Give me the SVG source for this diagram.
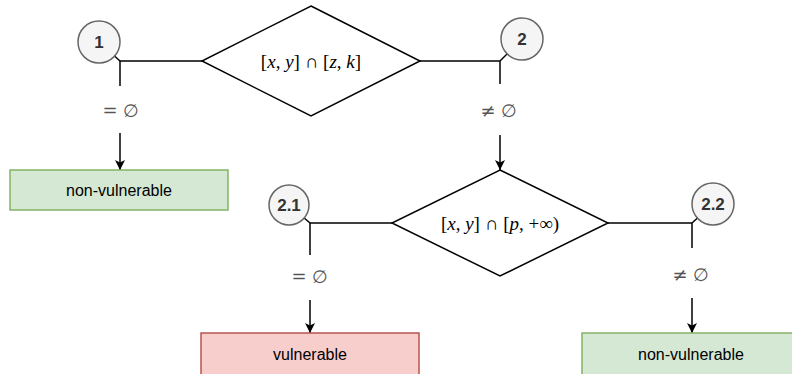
<svg xmlns="http://www.w3.org/2000/svg" width="792" height="374" viewBox="0 0 792 374">
  <defs>
    <marker id="arrow" viewBox="0 0 10 10" refX="10" refY="5" markerWidth="10" markerHeight="10" markerUnits="userSpaceOnUse" orient="auto">
      <path d="M0,0 L10,5 L0,10 L2.5,5 Z" fill="#000"/>
    </marker>
    <style>
      .edge { fill: none; stroke: #000; stroke-width: 1.5; }
      .diamond { fill: #fff; stroke: #000; stroke-width: 1.5; }
      .badge { fill: #f5f5f5; stroke: #666; stroke-width: 1.5; }
      .badge-text { font-family: "Liberation Sans", Arial, sans-serif; font-size: 17px; font-weight: bold; fill: #333; text-anchor: middle; dominant-baseline: central; }
      .good { fill: #d5e8d4; stroke: #82b366; stroke-width: 1.5; }
      .bad { fill: #f8cecc; stroke: #b85450; stroke-width: 1.5; }
      .box-text { font-family: "Liberation Sans", Arial, sans-serif; font-size: 16px; fill: #000; text-anchor: middle; dominant-baseline: central; }
      .math { font-family: "Liberation Serif", "DejaVu Serif", serif; font-size: 19px; fill: #000; text-anchor: middle; dominant-baseline: central; }
      .cond { font-family: "DejaVu Serif", "Liberation Serif", serif; font-size: 18px; fill: #555; text-anchor: middle; dominant-baseline: central; }
      .it { font-style: italic; }
    </style>
  </defs>

  <!-- connectors -->
  <g id="edges">
    <path class="edge" d="M202,61 H120 V86"/>
    <line class="edge" x1="120" y1="61" x2="99" y2="42"/>
    <path class="edge" d="M120,133 V170" marker-end="url(#arrow)"/>

    <path class="edge" d="M420,61 H500 V84"/>
    <line class="edge" x1="500" y1="61" x2="522" y2="39"/>
    <path class="edge" d="M500,135 V170" marker-end="url(#arrow)"/>

    <path class="edge" d="M392,223 H310 V255"/>
    <line class="edge" x1="310" y1="223" x2="289" y2="205"/>
    <path class="edge" d="M310,300 V333" marker-end="url(#arrow)"/>

    <path class="edge" d="M608,223 H692 V248"/>
    <line class="edge" x1="692" y1="223" x2="713" y2="204"/>
    <path class="edge" d="M692,298 V333" marker-end="url(#arrow)"/>

    <text class="cond" x="121" y="110">= ∅</text>
    <text class="cond" x="499" y="110">≠ ∅</text>
    <text class="cond" x="310" y="276">= ∅</text>
    <text class="cond" x="691" y="274">≠ ∅</text>
  </g>

  <!-- first test: [x,y] ∩ [z,k] -->
  <g id="test1">
    <polygon class="diamond" points="311,6 420,61 311,116 202,61"/>
    <text class="math" x="311" y="61">[<tspan class="it">x</tspan>, <tspan class="it">y</tspan>] ∩ [<tspan class="it">z</tspan>, <tspan class="it">k</tspan>]</text>
  </g>

  <!-- second test: [x,y] ∩ [p,+∞) -->
  <g id="test2">
    <polygon class="diamond" points="500,170 608,223 500,276 392,223"/>
    <text class="math" x="500" y="223">[<tspan class="it">x</tspan>, <tspan class="it">y</tspan>] ∩ [<tspan class="it">p</tspan>, +∞)</text>
  </g>

  <g id="badge-1">
    <circle class="badge" cx="99" cy="42" r="21"/>
    <text class="badge-text" x="99" y="42">1</text>
  </g>
  <g id="badge-2">
    <circle class="badge" cx="522" cy="39" r="21"/>
    <text class="badge-text" x="522" y="39">2</text>
  </g>
  <g id="badge-2-1">
    <circle class="badge" cx="289" cy="205" r="20"/>
    <text class="badge-text" x="289" y="205">2.1</text>
  </g>
  <g id="badge-2-2">
    <circle class="badge" cx="713" cy="204" r="21"/>
    <text class="badge-text" x="713" y="204">2.2</text>
  </g>

  <g id="result-1">
    <rect class="good" x="10" y="170" width="218" height="40"/>
    <text class="box-text" x="119" y="190">non-vulnerable</text>
  </g>
  <g id="result-2-1">
    <rect class="bad" x="201" y="333" width="218" height="42"/>
    <text class="box-text" x="310" y="354">vulnerable</text>
  </g>
  <g id="result-2-2">
    <rect class="good" x="582" y="333" width="218" height="42"/>
    <text class="box-text" x="691" y="354">non-vulnerable</text>
  </g>
</svg>
